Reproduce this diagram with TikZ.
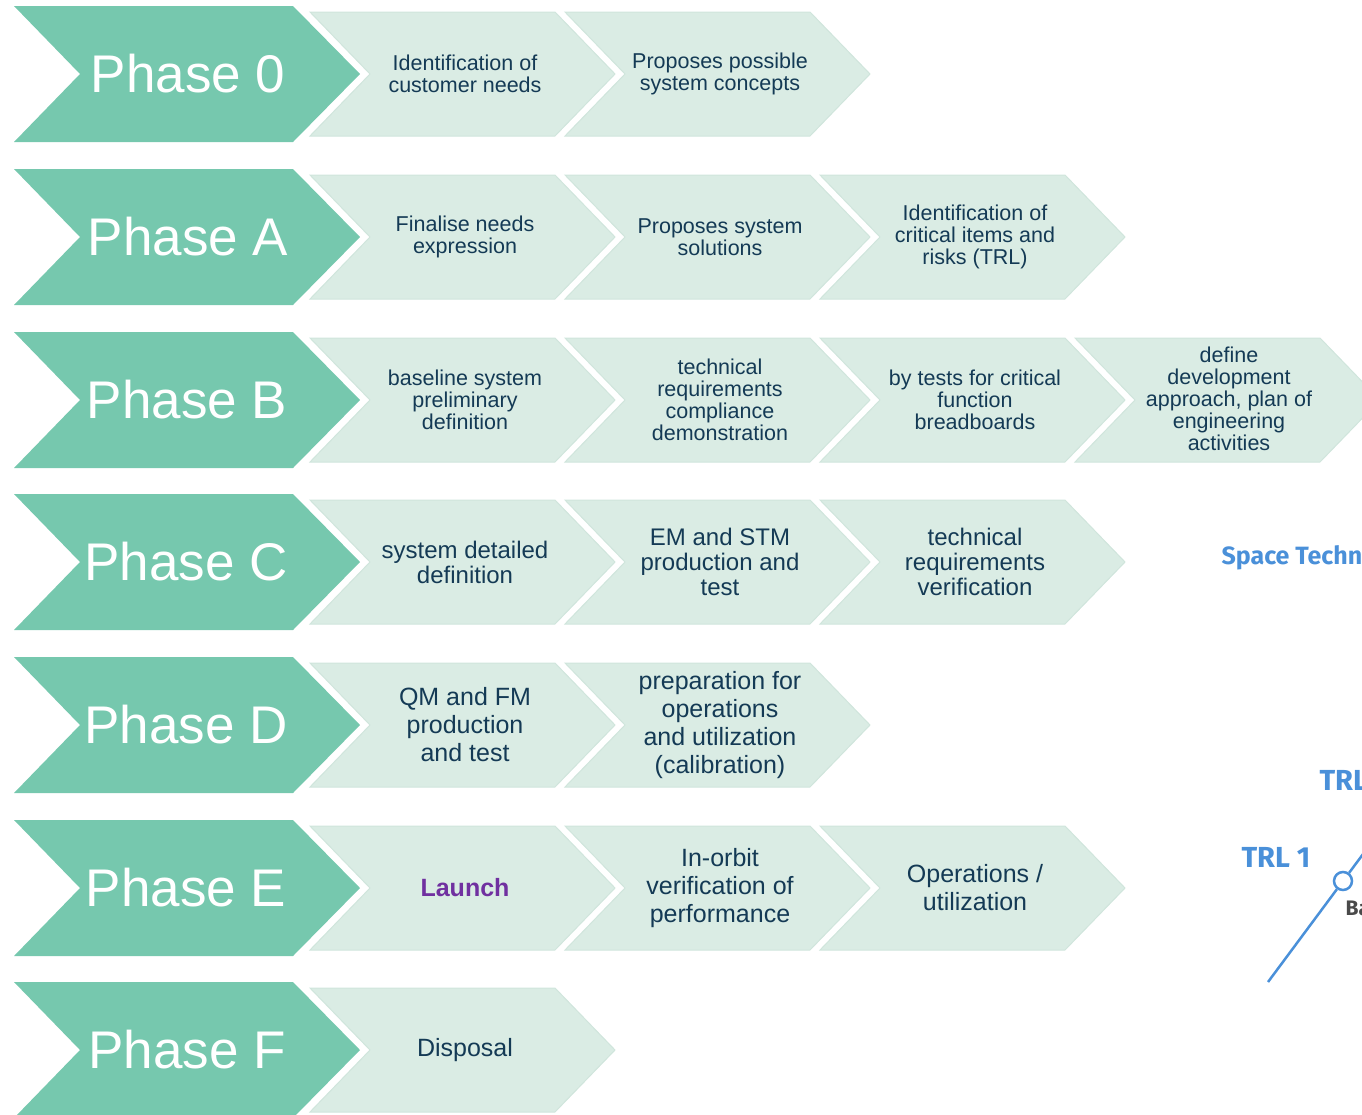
\documentclass[tikz,border=0pt]{standalone}
\usepackage{fontspec}
\setmainfont{Liberation Sans}
\newfontfamily\trlfont{Fira Sans}
\usetikzlibrary{positioning}

\definecolor{phasegreen}{HTML}{76C8AE}
\definecolor{stepgreen}{HTML}{DAECE4}
\definecolor{stepedge}{HTML}{D0E5DC}
\definecolor{stepnavy}{HTML}{143A55}
\definecolor{launchpurple}{HTML}{7030A0}
\definecolor{trlblue}{HTML}{4A90D9}
\definecolor{trlgrey}{HTML}{4A4A4A}

% big phase arrow, #1 = row centre
\newcommand{\phaseshape}[1]{\fill[phasegreen] (14,#1-68) -- (293,#1-68) -- (360,#1) -- (293,#1+68) -- (14,#1+68) -- (80,#1) -- cycle;}
% light step arrow, #1 = left edge, #2 = row centre
\newcommand{\stepshape}[2]{\filldraw[fill=stepgreen, draw=stepedge, line width=1pt] (#1,#2-62) -- (#1+245,#2-62) -- (#1+305,#2) -- (#1+245,#2+62) -- (#1,#2+62) -- (#1+60,#2) -- cycle;}

\begin{document}
\begin{tikzpicture}[
        x=1pt, y=-1pt,
        phase/.style={text=white, font=\fontsize{53}{56}\selectfont},
        steptext/.style={text=stepnavy, align=center, font=\fontsize{21.5}{22}\selectfont},
        bigtext/.style={text=stepnavy, align=center, font=\fontsize{24}{25}\selectfont},
        hugetext/.style={text=stepnavy, align=center, font=\fontsize{25}{28}\selectfont},
        trllabel/.style={text=trlblue, font=\trlfont\bfseries\fontsize{29}{30}\selectfont}
    ]
    \useasboundingbox (0,0) rectangle (1362,1114);
    \clip (0,0) rectangle (1362,1114);

    % shapes
    \phaseshape{74}  \stepshape{310}{74}  \stepshape{565}{74}
    \phaseshape{237} \stepshape{310}{237} \stepshape{565}{237} \stepshape{820}{237}
    \phaseshape{400} \stepshape{310}{400} \stepshape{565}{400} \stepshape{820}{400} \stepshape{1075}{400}
    \phaseshape{562} \stepshape{310}{562} \stepshape{565}{562} \stepshape{820}{562}
    \phaseshape{725} \stepshape{310}{725} \stepshape{565}{725}
    \phaseshape{888} \stepshape{310}{888} \stepshape{565}{888} \stepshape{820}{888}
    \phaseshape{1050} \stepshape{310}{1050}

    % phase 0
    \node[phase]    (p0)   at (188,74)   {Phase 0};
    \node[steptext] (p0a)  at (465,74)   {Identification of\\customer needs};
    \node[steptext] (p0b)  at (720,74)   {Proposes possible\\system concepts};

    % phase A
    \node[phase]    (pA)   at (188,237)  {Phase A};
    \node[steptext] (pAa)  at (465,237)  {Finalise needs\\expression};
    \node[steptext] (pAb)  at (720,237)  {Proposes system\\solutions};
    \node[steptext] (pAc)  at (975,237)  {Identification of\\critical items and\\risks (TRL)};

    % phase B
    \node[phase]    (pB)   at (187,400)  {Phase B};
    \node[steptext] (pBa)  at (465,400)  {baseline system\\preliminary\\definition};
    \node[steptext] (pBb)  at (720,400)  {technical\\requirements\\compliance\\demonstration};
    \node[steptext] (pBc)  at (975,400)  {by tests for critical\\function\\breadboards};
    \node[steptext] (pBd)  at (1229,399) {define\\development\\approach, plan of\\engineering\\activities};

    % phase C
    \node[phase]    (pC)   at (186,562)  {Phase C};
    \node[bigtext]  (pCa)  at (465,562)  {system detailed\\definition};
    \node[bigtext]  (pCb)  at (720,562)  {EM and STM\\production and\\test};
    \node[bigtext]  (pCc)  at (975,562)  {technical\\requirements\\verification};

    % phase D
    \node[phase]    (pD)   at (186,725)  {Phase D};
    \node[hugetext] (pDa)  at (465,725)  {QM and FM\\production\\and test};
    \node[hugetext] (pDb)  at (720,725)  {preparation for\\operations\\and utilization\\(calibration)};

    % phase E
    \node[phase]    (pE)   at (186,888)  {Phase E};
    \node[hugetext, text=launchpurple, font=\bfseries\fontsize{25}{28}\selectfont]
                    (pEa)  at (465,888)  {Launch};
    \node[hugetext] (pEb)  at (720,888)  {In-orbit\\verification of\\performance};
    \node[hugetext] (pEc)  at (975,888)  {Operations /\\utilization};

    % phase F
    \node[phase]    (pF)   at (187,1050) {Phase F};
    \node[hugetext] (pFa)  at (465,1050) {Disposal};

    % cut-off TRL figure
    \node[trllabel, anchor=west, font=\trlfont\bfseries\fontsize{25}{26}\selectfont]
                    (spacetech) at (1218,558) {Space Techn};
    \node[trllabel, anchor=west] (trltop) at (1316,780) {TRL};
    \node[trllabel, anchor=west] (trlone) at (1238,857) {TRL 1};
    \coordinate (trlstart) at (1268,982);
    \coordinate (trlnext)  at (1372,842);
    \node[circle, draw=trlblue, fill=white, line width=2.5pt, minimum size=18pt, inner sep=0pt]
                    (trlstop) at (1343,881) {};
    \draw[trlblue, line width=2.5pt] (trlstart) -- (trlstop);
    \draw[trlblue, line width=2.5pt] (trlstop) -- (trlnext);
    \node[anchor=west, text=trlgrey, font=\trlfont\bfseries\fontsize{21}{22}\selectfont]
                    (trlbase) at (1342,908) {Ba};
\end{tikzpicture}
\end{document}
